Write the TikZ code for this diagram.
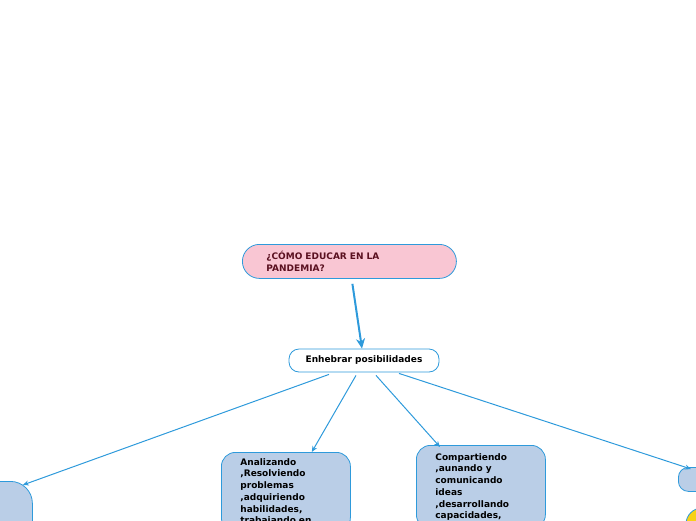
\documentclass[tikz,border=0pt]{standalone}
\usepackage{fontspec}
\setmainfont{DejaVu Sans}
\usepackage{tikz}
\usetikzlibrary{arrows.meta,positioning}

\definecolor{mapblue}{HTML}{2E9ADB}
\definecolor{boxfill}{HTML}{BACEE7}
\definecolor{rootfill}{HTML}{F9C6D3}
\definecolor{roottext}{HTML}{5A1020}
\definecolor{dotfill}{HTML}{F7D117}

\begin{document}
\begin{tikzpicture}[
          x=1pt, y=-1pt,
          every node/.style={font=\fontsize{9}{11.7}\selectfont\bfseries},
          box/.style={draw=mapblue, line width=0.8pt, rounded corners=14pt, fill=boxfill, align=left, anchor=north west, inner ysep=6pt},
          rootbox/.style={box, fill=rootfill, text=roottext, rounded corners=17pt, text width=166pt, inner xsep=24pt, minimum height=34pt, inner ysep=0pt},
          subbox/.style={box, fill=white, rounded corners=10pt, align=center, anchor=center, minimum width=150pt, minimum height=23pt, inner ysep=0pt},
          leaf/.style={box, text width=91pt, inner xsep=19pt},
          arr/.style={-{Stealth[length=6pt,width=5pt]}, draw=mapblue, line width=1pt},
          bigarr/.style={-{Stealth[length=10pt,width=9pt]}, draw=mapblue, line width=2pt},
        ]
          \useasboundingbox (0,0) rectangle (696,520);
          \clip (0,0) rectangle (696,520);
          \node[rootbox] (root) at (242,244) {¿CÓMO EDUCAR EN LA\\PANDEMIA?};
          \node[subbox] (enh) at (364,360.5) {Enhebrar posibilidades};
          \node[leaf] (ana) at (221,452) {Analizando\\,Resolviendo\\problemas\\,adquiriendo\\habilidades,\\trabajando en};
          \node[leaf, inner ysep=8pt] (comp) at (416,445) {Compartiendo\\,aunando y\\comunicando\\ideas\\,desarrollando\\capacidades,\\[8pt]};
          \node[box, minimum width=124pt, minimum height=70pt, rounded corners=22pt] (lft) at (-92,481) {};
          \node[box, minimum width=60pt, minimum height=24pt, rounded corners=10pt] (rgt) at (678,467) {};
          \node[circle, draw=mapblue, line width=0.8pt, fill=dotfill, minimum size=32pt] (dot) at (702,524) {};
          \draw[bigarr] ([xshift=3pt,yshift=-5pt]root.south) -- ([xshift=-2pt]enh.north);
          \draw[arr] ([xshift=-35pt,yshift=-2pt]enh.south) -- ([xshift=-10pt,yshift=-4pt]lft.north east);
          \draw[arr] ([xshift=-8pt,yshift=-3pt]enh.south) -- ([xshift=-39pt]ana.north east);
          \draw[arr] ([xshift=12pt,yshift=-3pt]enh.south) -- ([xshift=24pt,yshift=-2pt]comp.north west);
          \draw[arr] ([xshift=35pt,yshift=-1pt]enh.south) -- ([xshift=13pt,yshift=-2pt]rgt.north west);
        \end{tikzpicture}
\end{document}
